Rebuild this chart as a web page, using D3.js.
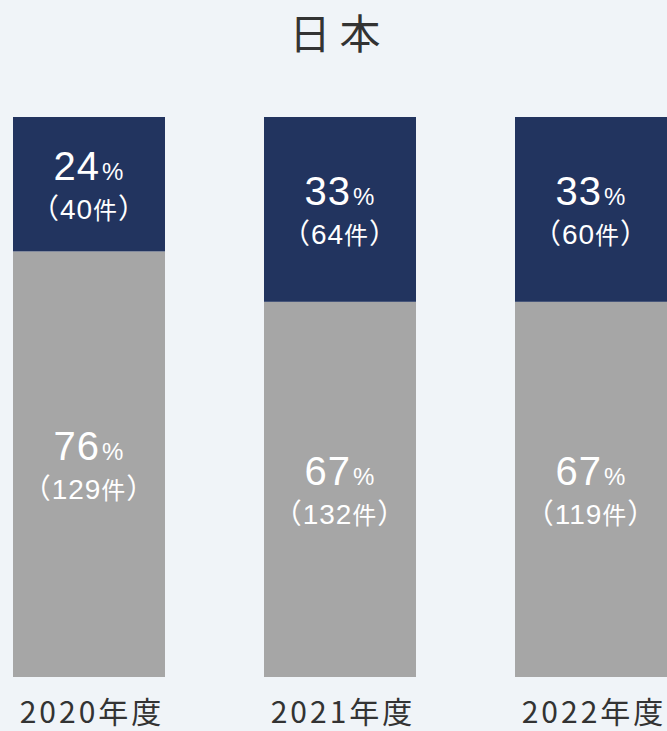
<!DOCTYPE html>
<html>
<head>
<meta charset="utf-8">
<script src="https://cdn.jsdelivr.net/npm/d3@7"></script>
<style>
  html, body { margin: 0; padding: 0; background: #f0f4f8; }
  svg { display: block; }
</style>
</head>
<body>
<div id="chart"></div>
<script>
const title = "日本";
const years = ["2020年度", "2021年度", "2022年度"];
const topPct = [24, 33, 33];
const topCount = [40, 64, 60];
const bottomPct = [76, 67, 67];
const bottomCount = [129, 132, 119];

const colors = { top: "#22345f", bottom: "#a6a6a6", bg: "#f0f4f8", text: "#333333" };
const W = 667, H = 731;

const svg = d3.select("#chart").append("svg").attr("width", W).attr("height", H);
svg.append("rect").attr("width", W).attr("height", H).attr("fill", colors.bg);

const x = d3.scaleBand().domain(years).range([13, 667]).paddingInner(99 / 251).paddingOuter(0);
const y = d3.scaleLinear().domain([0, 100]).range([677, 117]);

svg.append("text")
    .attr("x", W / 2 + 6).attr("y", 49)
    .attr("text-anchor", "middle")
    .attr("font-family", "Noto Sans CJK JP")
    .attr("font-size", 41)
    .attr("letter-spacing", 9)
    .attr("fill", colors.text)
    .text(title);

const rows = years.map((yr, i) => ({
    year: yr,
    segs: [
        { key: "bottom", y0: 0, y1: bottomPct[i], pct: bottomPct[i], n: bottomCount[i] },
        { key: "top", y0: bottomPct[i], y1: 100, pct: topPct[i], n: topCount[i] }
    ]
}));

const g = svg.selectAll("g.bar").data(rows).enter().append("g").attr("class", "bar");

g.selectAll("rect").data(d => d.segs.map(s => ({ ...s, year: d.year }))).enter().append("rect")
    .attr("x", d => x(d.year))
    .attr("width", x.bandwidth())
    .attr("y", d => y(d.y1))
    .attr("height", d => y(d.y0) - y(d.y1))
    .attr("fill", d => colors[d.key]);

const labels = g.selectAll("g.lbl").data(d => d.segs.map(s => ({ ...s, year: d.year }))).enter()
    .append("g").attr("class", "lbl")
    .attr("transform", d => `translate(${x(d.year) + x.bandwidth() / 2},${(y(d.y0) + y(d.y1)) / 2})`);

const big = labels.append("text")
    .attr("y", -4)
    .attr("text-anchor", "middle")
    .attr("fill", "#ffffff")
    .attr("letter-spacing", 1)
    .attr("font-family", "Liberation Sans, Arial, sans-serif");
big.append("tspan").attr("font-size", 40).text(d => d.pct);
big.append("tspan").attr("font-size", 24).attr("dx", 2).text("%");

labels.append("text")
    .attr("y", 35)
    .attr("text-anchor", "middle")
    .attr("fill", "#ffffff")
    .attr("letter-spacing", 1)
    .attr("font-family", "Liberation Sans, Noto Sans CJK JP, sans-serif")
    .attr("font-size", 28)
    .html(d => `<tspan font-family="Noto Sans CJK JP">（</tspan>${d.n}<tspan font-family="Noto Sans CJK JP" font-size="24">件</tspan><tspan font-family="Noto Sans CJK JP">）</tspan>`);

svg.selectAll("text.year").data(years).enter().append("text")
    .attr("class", "year")
    .attr("x", d => x(d) + x.bandwidth() / 2 + 3)
    .attr("y", 723)
    .attr("text-anchor", "middle")
    .attr("font-family", "Noto Sans CJK JP")
    .attr("font-size", 30)
    .attr("letter-spacing", 3)
    .attr("fill", colors.text)
    .text(d => d);
</script>
</body>
</html>
